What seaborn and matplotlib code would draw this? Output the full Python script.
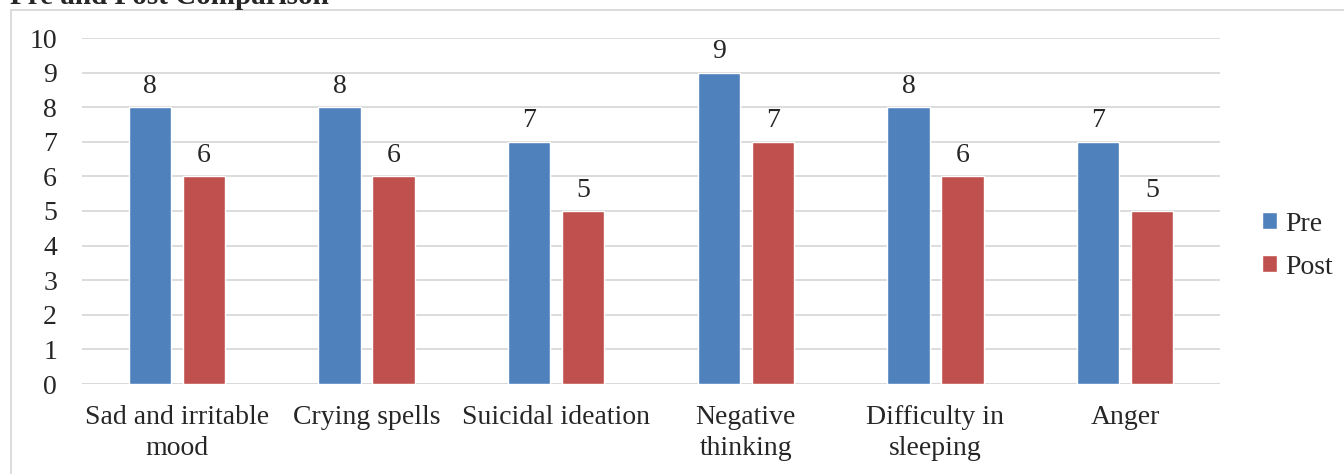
import pandas as pd
import seaborn as sns
import matplotlib.pyplot as plt
from matplotlib.patches import Rectangle

# Chart data
symptoms = ['Sad and irritable\nmood', 'Crying spells', 'Suicidal ideation',
            'Negative\nthinking', 'Difficulty in\nsleeping', 'Anger']
pre_scores = [8, 8, 7, 9, 8, 7]
post_scores = [6, 6, 5, 7, 6, 5]
phases = ['Pre', 'Post']
y_ticks = list(range(0, 11))

df = pd.DataFrame({
    'symptom': symptoms * 2,
    'score': pre_scores + post_scores,
    'phase': [phases[0]] * len(symptoms) + [phases[1]] * len(symptoms),
})

sns.set_style('white')
plt.rcParams['font.family'] = ['Liberation Serif', 'DejaVu Serif']
fs = 20

fig = plt.figure(figsize=(13.44, 4.74), dpi=100)
ax = fig.add_axes([82 / 1344, 1 - 384 / 474, (1220 - 82) / 1344, (384 - 38) / 474])

sns.barplot(data=df, x='symptom', y='score', hue='phase', order=symptoms,
            hue_order=phases, palette=['#4F81BD', '#C0504D'],
            width=0.57, gap=0.22, saturation=1, ax=ax, errorbar=None)

for cont in ax.containers:
    ax.bar_label(cont, padding=6, fontsize=fs)

ax.set_ylim(0, 10)
ax.set_xlim(-0.5, len(symptoms) - 0.5)
ax.set_yticks(y_ticks)
ax.yaxis.grid(True, color='#d9d9d9', linewidth=1.3)
ax.set_axisbelow(True)
for side in ['top', 'right', 'left', 'bottom']:
    ax.spines[side].set_visible(False)
ax.axhline(0, color='#d9d9d9', linewidth=1.3, zorder=0.5)
ax.tick_params(axis='y', length=0, pad=18, labelsize=fs)
ax.tick_params(axis='x', length=0, pad=15, labelsize=fs)
for lbl in ax.get_xticklabels():
    lbl.set_linespacing(1.3)
ax.set_xlabel('')
ax.set_ylabel('')

leg = ax.legend(loc='center left', bbox_to_anchor=(1.015, 0.40), frameon=False,
                fontsize=fs, handlelength=0.55, handleheight=0.55,
                handletextpad=0.3, labelspacing=0.65)

# Outer chart frame (only left and top edges visible in the crop)
fig.patches.append(Rectangle((11 / 1344, -0.1), 1.2, 1.1 - 10 / 474,
                             transform=fig.transFigure, fill=False,
                             edgecolor='#d9d9d9', linewidth=1.3))

fig.text(10 / 1344, 1 - 4 / 474, 'Pre and Post Comparison', fontsize=21,
         fontweight='bold', va='baseline', ha='left')

fig.savefig('out.png', dpi=100)
